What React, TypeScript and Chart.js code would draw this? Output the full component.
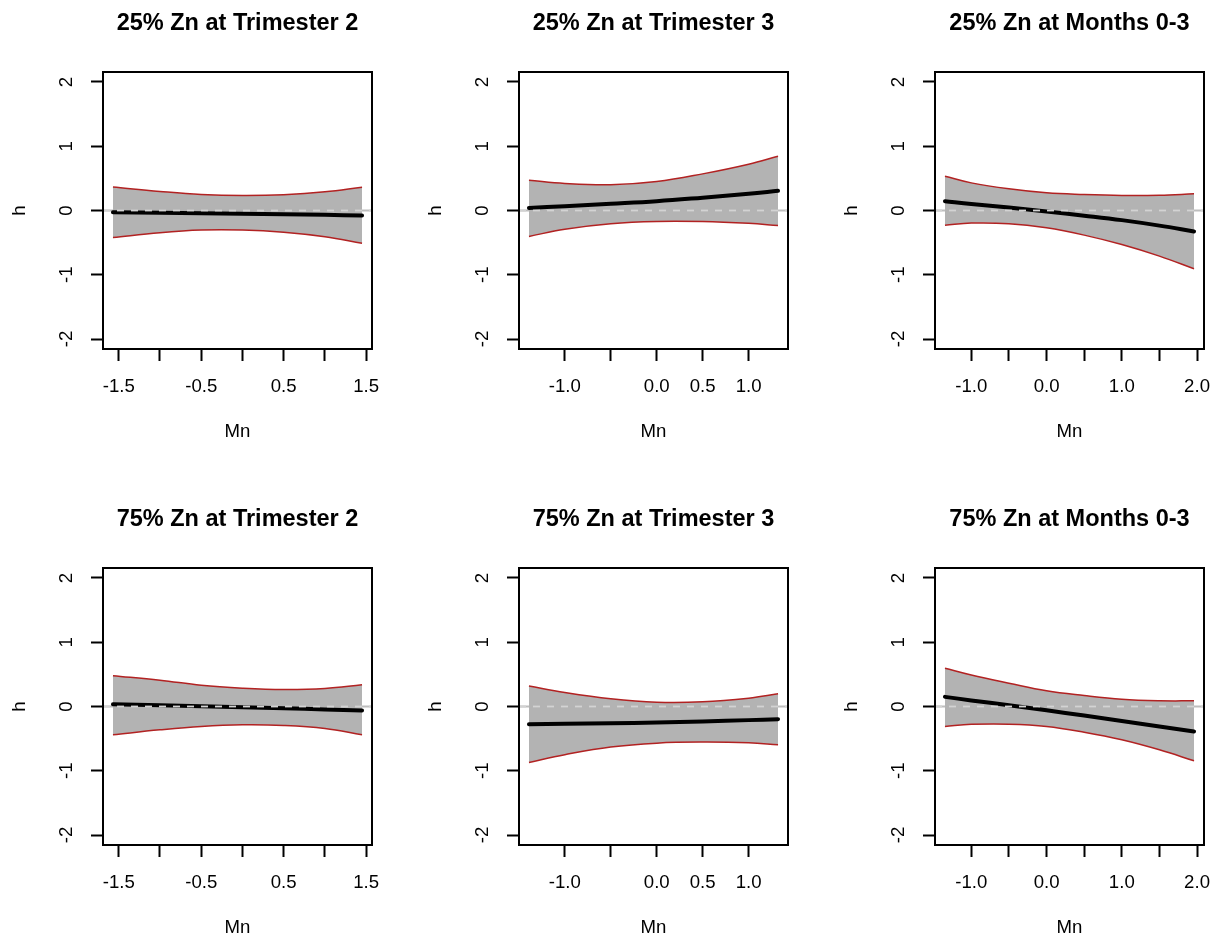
import React, { useEffect, useRef } from "react";
import { Chart, registerables } from "chart.js";
Chart.register(...registerables);

// ---------- data ----------
const TITLES = [
  "25% Zn at Trimester 2",
  "25% Zn at Trimester 3",
  "25% Zn at Months 0-3",
  "75% Zn at Trimester 2",
  "75% Zn at Trimester 3",
  "75% Zn at Months 0-3",
];

const X_T2 = [-1.57, -1.0, -0.5, 0.0, 0.5, 1.0, 1.45];
const X_T3 = [-1.39, -1.0, -0.5, 0.0, 0.5, 1.0, 1.32];
const X_M03 = [-1.35, -1.0, -0.5, 0.0, 0.5, 1.0, 1.5, 1.96];

const UPPER_25_T2 = [0.365, 0.297, 0.25, 0.233, 0.245, 0.29, 0.362];
const LOWER_25_T2 = [-0.42, -0.345, -0.305, -0.305, -0.34, -0.41, -0.51];
const FIT_25_T2 = [-0.027, -0.035, -0.042, -0.05, -0.058, -0.068, -0.078];

const UPPER_25_T3 = [0.47, 0.42, 0.4, 0.45, 0.57, 0.72, 0.845];
const LOWER_25_T3 = [-0.404, -0.29, -0.205, -0.17, -0.172, -0.2, -0.233];
const FIT_25_T3 = [0.04, 0.068, 0.105, 0.145, 0.2, 0.26, 0.306];

const UPPER_25_M03 = [0.534, 0.43, 0.337, 0.275, 0.249, 0.235, 0.238, 0.259];
const LOWER_25_M03 = [-0.228, -0.195, -0.205, -0.27, -0.383, -0.53, -0.71, -0.907];
const FIT_25_M03 = [0.145, 0.1, 0.045, -0.015, -0.08, -0.15, -0.235, -0.326];

const UPPER_75_T2 = [0.48, 0.41, 0.33, 0.285, 0.264, 0.28, 0.337];
const LOWER_75_T2 = [-0.44, -0.363, -0.31, -0.285, -0.295, -0.342, -0.44];
const FIT_75_T2 = [0.036, 0.018, 0.003, -0.01, -0.027, -0.045, -0.062];

const UPPER_75_T3 = [0.32, 0.218, 0.12, 0.067, 0.073, 0.13, 0.197];
const LOWER_75_T3 = [-0.87, -0.75, -0.63, -0.57, -0.554, -0.565, -0.596];
const FIT_75_T3 = [-0.275, -0.27, -0.26, -0.25, -0.233, -0.212, -0.197];

const UPPER_75_M03 = [0.596, 0.49, 0.363, 0.244, 0.171, 0.114, 0.09, 0.088];
const LOWER_75_M03 = [-0.31, -0.278, -0.275, -0.31, -0.4, -0.518, -0.674, -0.845];
const FIT_75_M03 = [0.15, 0.095, 0.02, -0.06, -0.14, -0.225, -0.31, -0.389];

const X_TICKS_T2 = [-1.5, -1.0, -0.5, 0.0, 0.5, 1.0, 1.5];
const X_LABELS_T2 = ["-1.5", "", "-0.5", "", "0.5", "", "1.5"];
const X_TICKS_T3 = [-1.0, -0.5, 0.0, 0.5, 1.0];
const X_LABELS_T3 = ["-1.0", "", "0.0", "0.5", "1.0"];
const X_TICKS_M03 = [-1.0, -0.5, 0.0, 0.5, 1.0, 1.5, 2.0];
const X_LABELS_M03 = ["-1.0", "", "0.0", "", "1.0", "", "2.0"];

const Y_TICKS = [-2, -1, 0, 1, 2];
const Y_LABELS = ["-2", "-1", "0", "1", "2"];
const Y_MIN = -2.155;
const Y_MAX = 2.155;

const X_TITLE = "Mn";
const Y_TITLE = "h";

// ---------- layout ----------
const FONT = "'Liberation Sans', Arial, Helvetica, sans-serif";
const CANVAS_W = 380;
const CANVAS_H = 442;
const COL_LEFT = [0, 416, 832];
const ROW_TOP = [0, 496];

type PanelProps = {
  title: string;
  xs: number[];
  upper: number[];
  lower: number[];
  fit: number[];
  xTicks: number[];
  xLabels: string[];
  left: number;
  top: number;
};

function Panel({ title, xs, upper, lower, fit, xTicks, xLabels, left, top }: PanelProps) {
  const ref = useRef<HTMLCanvasElement>(null);
  useEffect(() => {
    if (!ref.current) return;
    const span = xs[xs.length - 1] - xs[0];
    const xMin = xs[0] - 0.04 * span;
    const xMax = xs[xs.length - 1] + 0.04 * span;
    const pts = (ys: number[]) => xs.map((x, i) => ({ x, y: ys[i] }));
    const tickFont = { family: FONT, size: 18.6, lineHeight: 1 };

    const refLines = {
      id: "refLines",
      beforeDraw(chart: any) {
        const { ctx, chartArea: a, scales } = chart;
        const y = scales.y.getPixelForValue(0);
        ctx.save();
        ctx.strokeStyle = "#bebebe";
        ctx.lineWidth = 1.8;
        ctx.beginPath();
        ctx.moveTo(a.left, y);
        ctx.lineTo(a.right, y);
        ctx.stroke();
        ctx.restore();
      },
      afterDatasetsDraw(chart: any) {
        const { ctx, chartArea: a, scales } = chart;
        const y = scales.y.getPixelForValue(0);
        ctx.save();
        ctx.strokeStyle = "#d3d3d3";
        ctx.lineWidth = 1.8;
        ctx.setLineDash([7, 7]);
        ctx.beginPath();
        ctx.moveTo(a.left, y);
        ctx.lineTo(a.right, y);
        ctx.stroke();
        ctx.restore();
      },
      afterDraw(chart: any) {
        const { ctx, chartArea: a } = chart;
        ctx.save();
        ctx.strokeStyle = "#000";
        ctx.lineWidth = 2;
        ctx.strokeRect(a.left, a.top, a.right - a.left, a.bottom - a.top);
        ctx.restore();
      },
    };

    const chart = new Chart(ref.current, {
      type: "line",
      data: {
        datasets: [
          {
            data: pts(fit),
            borderColor: "#000",
            borderWidth: 4,
            pointRadius: 0,
            fill: false,
            tension: 0.4,
            borderCapStyle: "round",
          },
          {
            data: pts(upper),
            borderColor: "#b22222",
            borderWidth: 1.5,
            pointRadius: 0,
            fill: "+1",
            backgroundColor: "#b3b3b3",
            tension: 0.4,
          },
          {
            data: pts(lower),
            borderColor: "#b22222",
            borderWidth: 1.5,
            pointRadius: 0,
            fill: false,
            tension: 0.4,
          },
        ],
      },
      options: {
        responsive: false,
        animation: false,
        devicePixelRatio: 1,
        events: [],
        layout: { padding: { left: 0, right: 8, top: 0, bottom: 0 } },
        plugins: {
          legend: { display: false },
          tooltip: { enabled: false },
          filler: { drawTime: "beforeDatasetsDraw" },
          title: {
            display: true,
            text: title,
            fullSize: false,
            color: "#000",
            font: { family: FONT, size: 23.5, weight: "bold", lineHeight: 1 },
            padding: { top: 11.5, bottom: 37 },
          },
        },
        scales: {
          x: {
            type: "linear",
            min: xMin,
            max: xMax,
            afterBuildTicks: (s: any) => {
              s.ticks = xTicks.map((v) => ({ value: v }));
            },
            afterFit: (s: any) => {
              s.height = 93;
              s.paddingLeft = 0;
              s.paddingRight = 0;
            },
            ticks: {
              autoSkip: false,
              minRotation: 0,
              maxRotation: 0,
              padding: 16.4,
              color: "#000",
              font: tickFont,
              callback: (_v: any, i: number) => xLabels[i],
            },
            grid: {
              drawOnChartArea: false,
              drawTicks: true,
              tickLength: 12,
              tickWidth: 2,
              tickColor: "#000",
            },
            border: { display: false },
            title: {
              display: true,
              text: X_TITLE,
              color: "#000",
              font: tickFont,
              padding: { top: 0, bottom: 0.7 },
            },
          },
          y: {
            type: "linear",
            min: Y_MIN,
            max: Y_MAX,
            afterBuildTicks: (s: any) => {
              s.ticks = Y_TICKS.map((v) => ({ value: v }));
            },
            afterFit: (s: any) => {
              s.width = 103;
              s.paddingTop = 0;
              s.paddingBottom = 0;
            },
            ticks: {
              autoSkip: false,
              minRotation: 90,
              maxRotation: 90,
              crossAlign: "center",
              padding: 15.7,
              color: "#000",
              font: tickFont,
              callback: (_v: any, i: number) => Y_LABELS[i],
            },
            grid: {
              drawOnChartArea: false,
              drawTicks: true,
              tickLength: 12,
              tickWidth: 2,
              tickColor: "#000",
            },
            border: { display: false },
            title: {
              display: true,
              text: Y_TITLE,
              color: "#000",
              font: tickFont,
              padding: { top: 10.7, bottom: 0 },
            },
          },
        },
      } as any,
      plugins: [refLines],
    });
    return () => chart.destroy();
  }, []);

  return (
    <canvas
      ref={ref}
      width={CANVAS_W}
      height={CANVAS_H}
      style={{ position: "absolute", left, top, width: CANVAS_W, height: CANVAS_H }}
    />
  );
}

export default function App() {
  const panels = [
    { xs: X_T2, upper: UPPER_25_T2, lower: LOWER_25_T2, fit: FIT_25_T2, xTicks: X_TICKS_T2, xLabels: X_LABELS_T2 },
    { xs: X_T3, upper: UPPER_25_T3, lower: LOWER_25_T3, fit: FIT_25_T3, xTicks: X_TICKS_T3, xLabels: X_LABELS_T3 },
    { xs: X_M03, upper: UPPER_25_M03, lower: LOWER_25_M03, fit: FIT_25_M03, xTicks: X_TICKS_M03, xLabels: X_LABELS_M03 },
    { xs: X_T2, upper: UPPER_75_T2, lower: LOWER_75_T2, fit: FIT_75_T2, xTicks: X_TICKS_T2, xLabels: X_LABELS_T2 },
    { xs: X_T3, upper: UPPER_75_T3, lower: LOWER_75_T3, fit: FIT_75_T3, xTicks: X_TICKS_T3, xLabels: X_LABELS_T3 },
    { xs: X_M03, upper: UPPER_75_M03, lower: LOWER_75_M03, fit: FIT_75_M03, xTicks: X_TICKS_M03, xLabels: X_LABELS_M03 },
  ];
  return (
    <div
      style={{
        position: "absolute",
        left: 0,
        top: 0,
        width: 1212,
        height: 938,
        overflow: "hidden",
        background: "#fff",
      }}
    >
      {panels.map((p, i) => (
        <Panel
          key={i}
          title={TITLES[i]}
          {...p}
          left={COL_LEFT[i % 3]}
          top={ROW_TOP[Math.floor(i / 3)]}
        />
      ))}
    </div>
  );
}
